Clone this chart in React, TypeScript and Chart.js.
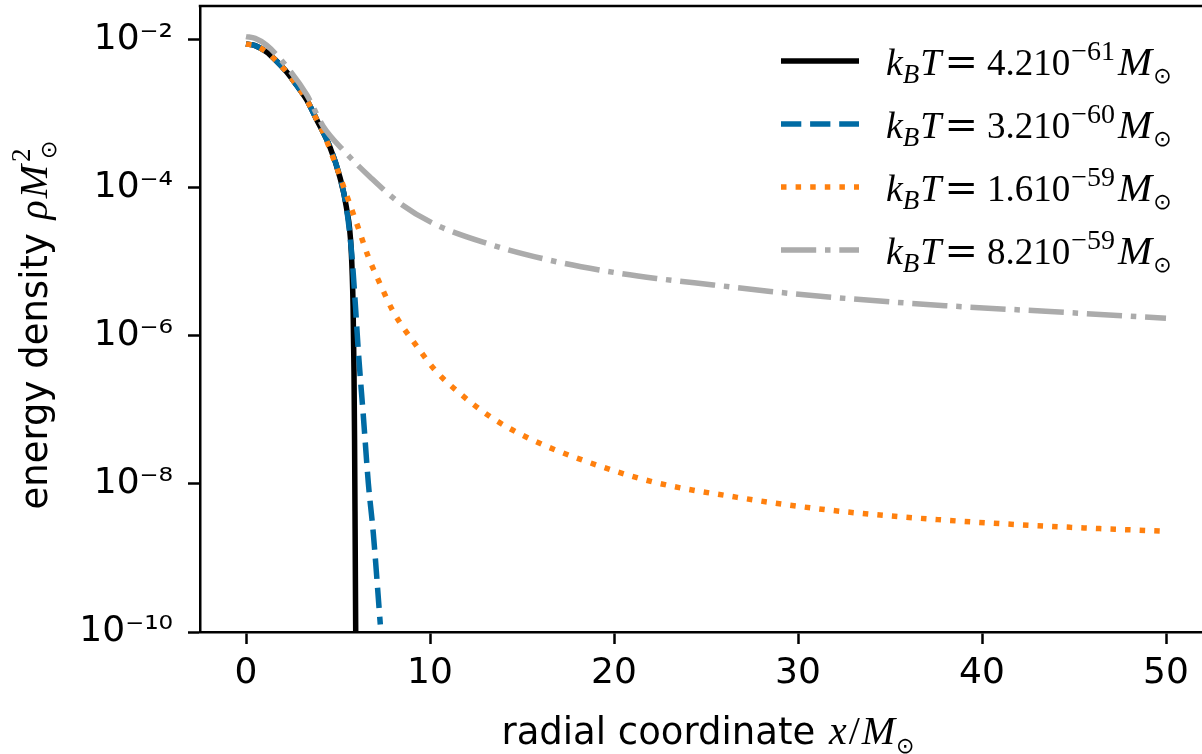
import React, { useEffect, useRef } from 'react';
import { Chart, registerables } from 'chart.js';

Chart.register(...registerables);

// ---- data ----
const xBlack = [0, 0.5, 1.1, 1.6, 2.2, 2.75, 3.3, 3.85, 4.55, 5.1, 5.45, 5.72, 5.82, 5.87, 5.9, 5.93, 5.96, 5.98];
const yBlack = [8.83e-3, 8.41e-3, 6.92e-3, 5.37e-3, 3.72e-3, 2.45e-3, 1.55e-3, 8.3e-4, 3.63e-4, 1.41e-4, 5.6e-5, 1.41e-5, 2.5e-6, 3.2e-7, 4.0e-8, 2.5e-9, 1.26e-10, 2.5e-11];

const xBlue = [0, 0.5, 1.1, 1.6, 2.2, 2.75, 3.3, 3.85, 4.55, 5.1, 5.45, 5.75, 5.95, 6.1, 6.38, 6.65, 6.92, 7.3];
const yBlue = [8.83e-3, 8.41e-3, 6.92e-3, 5.37e-3, 3.72e-3, 2.45e-3, 1.55e-3, 8.3e-4, 3.63e-4, 1.41e-4, 5.6e-5, 1.26e-5, 2.5e-6, 6.5e-7, 8.1e-8, 1.02e-8, 2.14e-9, 1.26e-10];

const xOrange = [0, 0.5, 1.1, 1.6, 2.2, 2.75, 3.3, 3.85, 4.2, 4.75, 5.56, 6.1, 6.65, 7.28, 8.0, 9.35, 10.3, 11.5, 13.35, 15.5, 18.3, 22.1, 26.7, 31.5, 37.6, 44.8, 50];
const yOrange = [8.83e-3, 8.41e-3, 6.92e-3, 5.37e-3, 3.72e-3, 2.45e-3, 1.55e-3, 8.3e-4, 5.6e-4, 2.5e-4, 6.9e-5, 2.9e-5, 1.17e-5, 5.1e-6, 2.14e-6, 6.9e-7, 3.4e-7, 1.78e-7, 7.9e-8, 4.0e-8, 2.1e-8, 1.07e-8, 6.6e-9, 4.5e-9, 3.3e-9, 2.6e-9, 2.3e-9];

const xGray = [0, 0.5, 1.12, 2.21, 3.3, 4.2, 5.29, 6.74, 8.37, 10.2, 13.1, 16.2, 19.2, 22.3, 25.4, 28.5, 33, 38, 43.7, 50];
const yGray = [1.11e-2, 1.05e-2, 8.5e-3, 4.37e-3, 1.82e-3, 6.8e-4, 3.24e-4, 1.41e-4, 6.2e-5, 3.3e-5, 1.78e-5, 1.1e-5, 7.8e-6, 6.0e-6, 4.9e-6, 4.0e-6, 3.16e-6, 2.57e-6, 2.14e-6, 1.74e-6];

const seriesMantissa = ['4.2', '3.2', '1.6', '8.2'];
const seriesExponent = ['\u221261', '\u221260', '\u221259', '\u221259'];
const seriesColors = ['#000000', '#006BA4', '#FF800E', '#ABABAB'];

const xTicks = [0, 10, 20, 30, 40, 50];
const yTicks = [1e-10, 1e-8, 1e-6, 1e-4, 1e-2];
const yTickLabels = ['10\u207B\u00B9\u2070', '10\u207B\u2078', '10\u207B\u2076', '10\u207B\u2074', '10\u207B\u00B2'];

const xTitle = 'radial coordinate ';
const yTitle = 'energy density ';

type Run = { t: string; font: string; dy?: number; gap?: number; noAdvance?: boolean };

function runsWidth(ctx: CanvasRenderingContext2D, runs: Run[]) {
  let w = 0;
  for (const r of runs) {
    ctx.font = r.font;
    w += (r.gap || 0) + (r.noAdvance ? 0 : ctx.measureText(r.t).width);
  }
  return w;
}

function drawRuns(ctx: CanvasRenderingContext2D, runs: Run[], x: number, y: number, align: 'left' | 'center') {
  const total = runsWidth(ctx, runs);
  let cx = align === 'center' ? x - total / 2 : x;
  ctx.textAlign = 'left';
  ctx.textBaseline = 'alphabetic';
  ctx.fillStyle = '#000';
  for (const r of runs) {
    cx += r.gap || 0;
    ctx.font = r.font;
    ctx.fillText(r.t, cx, y + (r.dy || 0));
    if (!r.noAdvance) cx += ctx.measureText(r.t).width;
  }
}

const SERIF = "'Liberation Serif', serif";
const SANS = "'DejaVu Sans', sans-serif";

const decorPlugin = {
  id: 'decor',
  afterDraw(chart: any) {
    const ctx: CanvasRenderingContext2D = chart.ctx;
    const a = chart.chartArea;
    ctx.save();
    // top and right spines
    ctx.strokeStyle = '#000';
    ctx.lineWidth = 2.5;
    ctx.beginPath();
    ctx.moveTo(a.left - 1.25, a.top);
    ctx.lineTo(a.right, a.top);
    ctx.lineTo(a.right, a.bottom);
    ctx.stroke();

    // x title
    drawRuns(ctx, [
      { t: xTitle, font: `37px ${SANS}` },
      { t: 'x', font: `italic 40px ${SERIF}`, gap: 2 },
      { t: '/', font: `40px ${SERIF}`, gap: 2 },
      { t: 'M', font: `italic 40px ${SERIF}`, gap: 2 },
      { t: '\u2299', font: `22px ${SANS}`, dy: 9, gap: 1 },
    ], (a.left + a.right) / 2 + 2, 744, 'center');

    // y title (rotated)
    ctx.save();
    ctx.translate(47, (a.top + a.bottom) / 2 + 6);
    ctx.rotate(-Math.PI / 2);
    drawRuns(ctx, [
      { t: yTitle, font: `37px ${SANS}` },
      { t: '\u03C1', font: `italic 40px ${SERIF}`, gap: 2 },
      { t: 'M', font: `italic 40px ${SERIF}`, gap: 2 },
      { t: '2', font: `27px ${SERIF}`, dy: -17, gap: 3, noAdvance: true },
      { t: '\u2299', font: `22px ${SANS}`, dy: 9, gap: 3 },
    ], 0, 0, 'center');
    ctx.restore();

    // legend
    const rowY = [61, 124, 187, 250];
    chart.data.datasets.forEach((ds: any, i: number) => {
      const y = rowY[i];
      ctx.save();
      ctx.strokeStyle = ds.borderColor;
      ctx.lineWidth = ds.borderWidth;
      ctx.lineCap = 'butt';
      ctx.setLineDash(ds.borderDash || []);
      ctx.beginPath();
      ctx.moveTo(781, y);
      ctx.lineTo(859, y);
      ctx.stroke();
      ctx.restore();
      drawRuns(ctx, [
        { t: 'k', font: `italic 38px ${SERIF}` },
        { t: 'B', font: `italic 27px ${SERIF}`, dy: 8 },
        { t: 'T', font: `italic 38px ${SERIF}`, gap: 1 },
        { t: '=', font: `40px 'DejaVu Serif', serif`, gap: 3 },
        { t: seriesMantissa[i] + '10', font: `37px ${SERIF}`, gap: 9 },
        { t: seriesExponent[i], font: `28px ${SERIF}`, dy: -15, gap: 1 },
        { t: 'M', font: `italic 41px ${SERIF}`, gap: 3 },
        { t: '\u2299', font: `22px ${SANS}`, dy: 8, gap: 1 },
      ], 886, y + 14, 'left');
    });
    ctx.restore();
  },
};

function toPoints(xs: number[], ys: number[]) {
  return xs.map((x, i) => ({ x, y: ys[i] }));
}

export default function App() {
  const ref = useRef<HTMLCanvasElement | null>(null);

  useEffect(() => {
    if (!ref.current) return;
    const lw = 5.5;
    const chart = new Chart(ref.current, {
      type: 'line',
      data: {
        datasets: [
          {
            label: 'black', data: toPoints(xBlack, yBlack), borderColor: seriesColors[0],
            borderWidth: lw, borderDash: [], order: 4,
          },
          {
            label: 'blue', data: toPoints(xBlue, yBlue), borderColor: seriesColors[1],
            borderWidth: lw, borderDash: [20.3, 8.8], order: 3,
          },
          {
            label: 'orange', data: toPoints(xOrange, yOrange), borderColor: seriesColors[2],
            borderWidth: lw, borderDash: [5.5, 9.1], order: 2,
          },
          {
            label: 'gray', data: toPoints(xGray, yGray), borderColor: seriesColors[3],
            borderWidth: lw, borderDash: [35.2, 8.8, 5.5, 8.8], order: 1,
          },
        ].map((d) => ({
          ...d,
          pointRadius: 0,
          pointHoverRadius: 0,
          fill: false,
          cubicInterpolationMode: 'monotone' as const,
          borderCapStyle: 'butt' as const,
          borderJoinStyle: 'round' as const,
        })),
      },
      options: {
        animation: false,
        responsive: false,
        events: [],
        layout: { padding: { left: 0, top: 6, right: 2, bottom: 0 } },
        plugins: { legend: { display: false }, tooltip: { enabled: false }, title: { display: false } },
        scales: {
          x: {
            type: 'linear',
            min: -2.5,
            max: 52.5,
            afterBuildTicks: (scale: any) => {
              scale.ticks = xTicks.map((v) => ({ value: v }));
            },
            afterFit: (scale: any) => {
              scale.height = 122;
              scale.paddingLeft = 0;
              scale.paddingRight = 0;
            },
            border: { display: true, color: '#000', width: 2.5 },
            grid: { drawOnChartArea: false, drawTicks: true, tickLength: 12, tickWidth: 2.5, tickColor: '#000' },
            ticks: {
              color: '#000',
              font: { family: "'DejaVu Sans'", size: 36 },
              padding: 8,
              maxRotation: 0,
              autoSkip: false,
              callback: (v: any) => String(v),
            },
          },
          y: {
            type: 'logarithmic',
            min: 1e-10,
            max: 0.0288,
            afterBuildTicks: (scale: any) => {
              scale.ticks = yTicks.map((v) => ({ value: v }));
            },
            afterFit: (scale: any) => {
              scale.width = 200;
              scale.paddingTop = 0;
              scale.paddingBottom = 0;
            },
            border: { display: true, color: '#000', width: 2.5 },
            grid: { drawOnChartArea: false, drawTicks: true, tickLength: 12, tickWidth: 2.5, tickColor: '#000' },
            ticks: {
              color: '#000',
              font: { family: "'DejaVu Sans'", size: 36 },
              padding: 15,
              autoSkip: false,
              callback: (v: any) => {
                const idx = yTicks.findIndex((t) => Math.abs(Math.log10(t) - Math.log10(v)) < 1e-6);
                return idx >= 0 ? yTickLabels[idx] : '';
              },
            },
          },
        },
      },
      plugins: [decorPlugin],
    });
    return () => chart.destroy();
  }, []);

  return (
    <div style={{ position: 'fixed', left: 0, top: 0, width: 1202, height: 754, overflow: 'hidden', background: '#fff' }}>
      <canvas ref={ref} width={1214} height={754} style={{ display: 'block', width: 1214, height: 754 }} />
    </div>
  );
}
